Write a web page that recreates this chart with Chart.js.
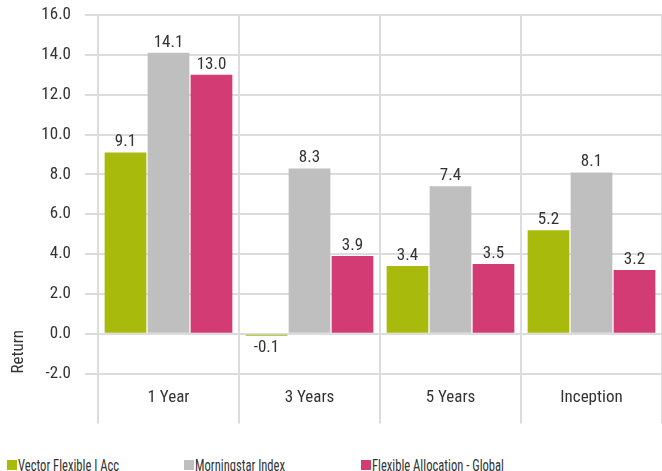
<!DOCTYPE html>
<html>
<head>
<meta charset="utf-8">
<script src="https://cdn.jsdelivr.net/npm/chart.js@4.4.1/dist/chart.umd.min.js"></script>
<style>
  body { margin: 0; background: #fff; }
  #wrap { position: relative; width: 662px; height: 471px; overflow: hidden; }
  #legend { position: absolute; left: 7px; top: 455px; display: flex; font-family: 'Roboto Condensed', 'Noto Sans', Roboto, sans-serif; font-size: 17px; font-stretch: condensed; color: #333; }
  #legend div { width: 177px; flex-shrink: 0; display: flex; align-items: center; white-space: nowrap; }
  #legend span.box { display: inline-block; flex-shrink: 0; width: 10px; height: 10px; margin-right: 1px; }
  #legend span.txt { display: inline-block; transform: scaleX(0.74); transform-origin: left center; }
</style>
</head>
<body>
<div id="wrap">
  <canvas id="c" width="662" height="440"></canvas>
  <div id="legend"></div>
</div>
<script>
const FONT = "'Roboto Condensed', 'Noto Sans', Roboto, sans-serif"
const STRETCH = 'condensed'

const periods = ['1 Year', '3 Years', '5 Years', 'Inception']
const seriesNames = ['Vector Flexible I Acc', 'Morningstar Index', 'Flexible Allocation - Global']
const fundReturns = [9.1, -0.1, 3.4, 5.2]
const indexReturns = [14.1, 8.3, 7.4, 8.1]
const categoryReturns = [13.0, 3.9, 3.5, 3.2]
const seriesColors = ['#a8ba0b', '#bfbfbf', '#d23b73']

// value labels on top of (or under) each bar
const barValues = {
  id: 'barValues',
  afterDatasetsDraw(chart) {
    const ctx = chart.ctx
    ctx.save()
    ctx.font = STRETCH + ' 17px ' + FONT
    ctx.fillStyle = '#333'
    ctx.textAlign = 'center'
    chart.data.datasets.forEach((ds, i) => {
      chart.getDatasetMeta(i).data.forEach((bar, j) => {
        const v = ds.data[j]
        if (v >= 0) {
          ctx.textBaseline = 'bottom'
          ctx.fillText(v.toFixed(1), bar.x, bar.y - 2)
        } else {
          ctx.textBaseline = 'top'
          ctx.fillText(v.toFixed(1), bar.x, bar.y + 4)
        }
      })
    })
    ctx.restore()
  }
}

// category separators run down through the label row
const longTicks = {
  id: 'longTicks',
  afterDraw(chart) {
    const x = chart.scales.x
    const ctx = chart.ctx
    const half = (x.getPixelForValue(1) - x.getPixelForValue(0)) / 2
    ctx.save()
    ctx.strokeStyle = '#dcdcdc'
    ctx.lineWidth = 2
    ctx.beginPath()
    for (let i = 0; i <= periods.length; i++) {
      const px = x.getPixelForValue(i) - half
      ctx.moveTo(px, chart.chartArea.bottom)
      ctx.lineTo(px, chart.chartArea.bottom + 50)
    }
    ctx.stroke()
    ctx.restore()
  }
}

const chart = new Chart(document.getElementById('c'), {
  type: 'bar',
  data: {
    labels: periods,
    datasets: [
      { label: seriesNames[0], data: fundReturns, backgroundColor: seriesColors[0] },
      { label: seriesNames[1], data: indexReturns, backgroundColor: seriesColors[1] },
      { label: seriesNames[2], data: categoryReturns, backgroundColor: seriesColors[2] }
    ]
  },
  options: {
    responsive: false,
    animation: false,
    layout: { padding: { top: 15, right: 0, bottom: 30, left: 0 } },
    datasets: { bar: { barPercentage: 0.97, categoryPercentage: 0.915 } },
    plugins: {
      legend: { display: false },
      tooltip: { enabled: false }
    },
    scales: {
      x: {
        grid: { color: '#dcdcdc', lineWidth: 2, tickLength: 12 },
        border: { display: false },
        ticks: { color: '#333', font: { family: FONT, size: 17, weight: STRETCH }, padding: 2 }
      },
      y: {
        min: -2,
        max: 16,
        ticks: {
          stepSize: 2,
          color: '#333',
          font: { family: FONT, size: 17, weight: STRETCH },
          padding: 14,
          callback: v => v.toFixed(1)
        },
        grid: { color: '#dcdcdc', lineWidth: 2, tickLength: 13 },
        border: { display: false },
        title: { display: true, text: 'Return', align: 'start', color: '#333', font: { family: FONT, size: 17, weight: STRETCH }, padding: { top: 9, bottom: 0 } },
        afterFit: s => {
          s.width = 98
          s.paddingTop = 0
          s.paddingBottom = 0
        }
      }
    }
  },
  plugins: [barValues, longTicks]
})

// legend in fixed columns like the original
const legend = document.getElementById('legend')
chart.data.datasets.forEach(ds => {
  const item = document.createElement('div')
  const box = document.createElement('span')
  box.className = 'box'
  box.style.background = ds.backgroundColor
  const txt = document.createElement('span')
  txt.className = 'txt'
  txt.textContent = ds.label
  item.appendChild(box)
  item.appendChild(txt)
  legend.appendChild(item)
})
</script>
</body>
</html>
